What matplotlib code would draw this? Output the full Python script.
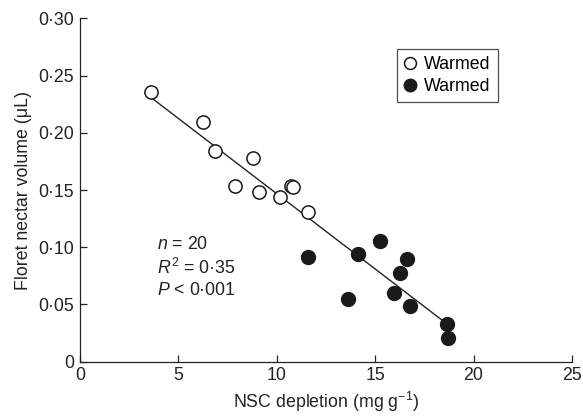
import numpy as np
import matplotlib
matplotlib.use("Agg")
import matplotlib.pyplot as plt

plt.rcParams['font.family'] = ['Liberation Sans', 'DejaVu Sans']
plt.rcParams['mathtext.fontset'] = 'custom'
plt.rcParams['mathtext.rm'] = 'Liberation Sans'
plt.rcParams['mathtext.it'] = 'Liberation Sans:italic'

open_x = [3.59, 6.24, 6.86, 8.78, 7.87, 9.10, 10.17, 10.72, 10.82, 11.61]
open_y = [0.236, 0.2098, 0.1842, 0.1778, 0.1536, 0.1486, 0.1442, 0.1535, 0.1525, 0.1306]
filled_x = [11.61, 13.64, 14.15, 15.25, 16.64, 16.27, 15.96, 16.78, 18.64, 18.69]
filled_y = [0.0918, 0.0548, 0.0939, 0.1055, 0.0895, 0.0778, 0.0598, 0.0487, 0.0327, 0.0205]
legend_labels = ["Warmed", "Warmed"]
xticks = [0, 5, 10, 15, 20, 25]
yticks = [0, 0.05, 0.10, 0.15, 0.20, 0.25, 0.30]
ytick_labels = ["0", "0·05", "0·10", "0·15", "0·20", "0·25", "0·30"]
stats_lines = [r"$\it{n}$ = 20", r"$\it{R}^{2}$ = 0·35", r"$\it{P}$ < 0·001"]

FS = 12.8
fig = plt.figure(figsize=(5.83, 4.17), dpi=100)
ax = fig.add_axes([0.137, 0.1326, 0.844, 0.8234])

allx = np.array(open_x + filled_x)
ally = np.array(open_y + filled_y)
m, b = np.polyfit(allx, ally, 1)
xl = np.array([allx.min(), allx.max()])
ax.plot(xl, m * xl + b, color='#222222', lw=1.0, zorder=1)

ax.plot(open_x, open_y, 'o', ms=9.5, mfc='white', mec='#1a1a1a', mew=1.1,
        ls='none', label=legend_labels[0], zorder=3)
ax.plot(filled_x, filled_y, 'o', ms=10, mfc='#1a1a1a', mec='#1a1a1a', mew=1.0,
        ls='none', label=legend_labels[1], zorder=3)

ax.set_xlim(0, 25)
ax.set_ylim(0, 0.30)
ax.set_xticks(xticks)
ax.set_xticklabels([str(t) for t in xticks])
ax.set_yticks(yticks)
ax.set_yticklabels(ytick_labels)
ax.tick_params(direction='in', length=5, width=0.9, labelsize=FS, colors='#222222',
               labelcolor='#222222')
ax.tick_params(axis='x', pad=4)
ax.tick_params(axis='y', pad=4)
for s in ['top', 'right']:
    ax.spines[s].set_visible(False)
for s in ['left', 'bottom']:
    ax.spines[s].set_linewidth(0.9)
    ax.spines[s].set_color('#222222')

ax.set_xlabel("NSC depletion (mg g$^{-1}$)", fontsize=FS, color='#222222', labelpad=4)
ax.set_ylabel("Floret nectar volume (μL)", fontsize=FS, color='#222222', labelpad=5)

for i, t in enumerate(stats_lines):
    ax.text(3.9, 0.102 - i * 0.0197, t, fontsize=FS, color='#222222', va='center', ha='left')

leg = ax.legend(loc='upper left', bbox_to_anchor=(0.645, 0.911), fontsize=FS,
                frameon=True, fancybox=False, edgecolor='#222222', handlelength=0.6,
                handletextpad=0.5, borderpad=0.4, labelspacing=0.3, borderaxespad=0,
                markerscale=0.9)
leg.get_frame().set_linewidth(0.9)

fig.savefig("out.png", dpi=100)
